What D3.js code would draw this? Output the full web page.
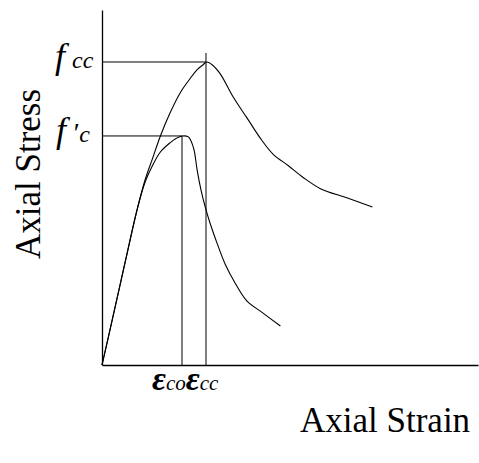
<!DOCTYPE html>
<meta charset="utf-8">
<script src="https://d3js.org/d3.v7.min.js"></script>
<style>
  body { margin: 0; background: #fff; }
  text { font-family: "Liberation Serif", "Times New Roman", serif; fill: #000; }
</style>
<div id="my_dataviz"></div>
<script>
// normalized strain (eps / eps_co) and stress (f / f'c)
const unconfinedStrain = [0, 0.13, 0.29, 0.44, 0.54, 0.63, 0.73, 0.85, 0.93, 1.0, 1.08, 1.11, 1.15, 1.19, 1.24, 1.29, 1.35, 1.44, 1.54, 1.66, 1.81, 2.0, 2.23];
const unconfinedStress = [0, 0.2, 0.45, 0.68, 0.8, 0.87, 0.93, 0.97, 0.99, 1.0, 0.996, 0.98, 0.94, 0.85, 0.76, 0.69, 0.62, 0.53, 0.44, 0.36, 0.28, 0.23, 0.17];

const confinedStrain = [0, 0.13, 0.29, 0.44, 0.54, 0.63, 0.73, 0.85, 0.98, 1.1, 1.19, 1.26, 1.31, 1.38, 1.48, 1.64, 1.81, 2.0, 2.14, 2.33, 2.51, 2.73, 3.06, 3.38];
const confinedStress = [0, 0.2, 0.45, 0.68, 0.81, 0.9, 1.0, 1.1, 1.19, 1.25, 1.29, 1.31, 1.323, 1.31, 1.27, 1.17, 1.08, 0.98, 0.92, 0.87, 0.82, 0.77, 0.73, 0.69];

const epsCo = 1.0, fc = 1.0;
const epsCc = 1.3, fcc = 1.323;

const width = 479, height = 463;
const margin = { top: 10, right: 1, bottom: 98, left: 102 };

const svg = d3.select("#my_dataviz")
  .append("svg")
  .attr("width", width)
  .attr("height", height);

const x = d3.scaleLinear().domain([0, 4.7]).range([margin.left, width - margin.right]);
const y = d3.scaleLinear().domain([0, 1.55]).range([height - margin.bottom, margin.top]);

// axes without ticks
svg.append("g")
  .attr("transform", `translate(0,${y(0)})`)
  .call(d3.axisBottom(x).tickValues([]).tickSizeOuter(0))
  .select(".domain").attr("stroke-width", 1.3);
svg.append("g")
  .attr("transform", `translate(${x(0)},0)`)
  .call(d3.axisLeft(y).tickValues([]).tickSizeOuter(0))
  .select(".domain").attr("stroke-width", 1.3);

const line = d3.line().x(d => x(d[0])).y(d => y(d[1])).curve(d3.curveCatmullRom.alpha(0.5));

svg.append("path")
  .datum(d3.zip(unconfinedStrain, unconfinedStress))
  .attr("fill", "none").attr("stroke", "#000").attr("stroke-width", 1.1)
  .attr("d", line);
svg.append("path")
  .datum(d3.zip(confinedStrain, confinedStress))
  .attr("fill", "none").attr("stroke", "#000").attr("stroke-width", 1.1)
  .attr("d", line);

// peak guide lines
svg.append("line")
  .attr("x1", x(0)).attr("x2", x(epsCo)).attr("y1", y(fc)).attr("y2", y(fc))
  .attr("stroke", "#000");
svg.append("line")
  .attr("x1", x(epsCo)).attr("x2", x(epsCo)).attr("y1", y(fc)).attr("y2", y(0))
  .attr("stroke", "#000");
svg.append("line")
  .attr("x1", x(0)).attr("x2", x(epsCc)).attr("y1", y(fcc)).attr("y2", y(fcc))
  .attr("stroke", "#000");
svg.append("line")
  .attr("x1", x(epsCc)).attr("x2", x(epsCc)).attr("y1", y(fcc) - 9).attr("y2", y(0))
  .attr("stroke", "#000");

// stress labels
const t1 = svg.append("text").attr("x", 55).attr("y", y(fcc) + 6).style("font-style", "italic");
t1.append("tspan").attr("font-size", 36).text("f");
t1.append("tspan").attr("font-size", 24).attr("dx", 7).text("cc");

const t2 = svg.append("text").attr("x", 56).attr("y", y(fc) + 6).style("font-style", "italic");
t2.append("tspan").attr("font-size", 36).text("f");
t2.append("tspan").attr("font-size", 28).attr("dx", 6).text("′");
t2.append("tspan").attr("font-size", 24).attr("dx", 1).text("c");

// strain labels
const t3 = svg.append("text").attr("x", 152).attr("y", 390).style("font-style", "italic");
t3.append("tspan").attr("font-size", 34).attr("font-weight", "bold").text("ε");
t3.append("tspan").attr("font-size", 21).text("co");
t3.append("tspan").attr("font-size", 34).attr("font-weight", "bold").text("ε");
t3.append("tspan").attr("font-size", 21).text("cc");

// axis titles
svg.append("text")
  .attr("x", 300).attr("y", 432)
  .attr("font-size", 35)
  .text("Axial Strain");

svg.append("text")
  .attr("transform", "translate(40,174) rotate(-90)")
  .attr("text-anchor", "middle")
  .attr("font-size", 35)
  .text("Axial Stress");
</script>
